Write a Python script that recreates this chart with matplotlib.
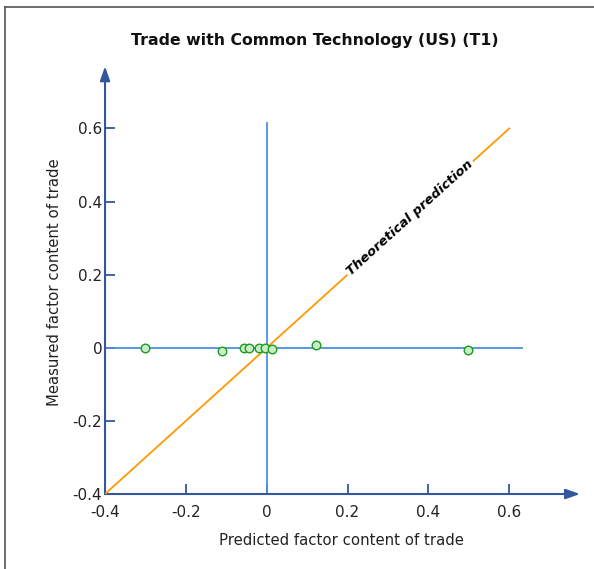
import numpy as np
import matplotlib
matplotlib.use("Agg")
import matplotlib.pyplot as plt
from matplotlib.lines import Line2D

# data
pred = [-0.30, -0.11, -0.055, -0.044, -0.019, -0.005, 0.012, 0.123, 0.498]
meas = [0.0, -0.01, 0.0, 0.0, 0.0, 0.0, -0.004, 0.008, -0.005]
xticks = [-0.4, -0.2, 0, 0.2, 0.4, 0.6]
yticks = [-0.4, -0.2, 0, 0.2, 0.4, 0.6]
tick_txt = ["-0.4", "-0.2", "0", "0.2", "0.4", "0.6"]

AXC = "#34569a"
BLUE = "#4a90e2"
ORANGE = "#ff9900"

plt.rcParams["font.family"] = ["DejaVu Sans"]
fig = plt.figure(figsize=(5.94, 5.69), dpi=100)
# frame: only the left and top edges fall inside the picture
W, H = 594, 569
fig.add_artist(Line2D([4.5 / W, 4.5 / W], [0, 1 - 6.5 / H], transform=fig.transFigure,
                      color="#555555", lw=1.2))
fig.add_artist(Line2D([4.5 / W, 1], [1 - 6.5 / H, 1 - 6.5 / H], transform=fig.transFigure,
                      color="#555555", lw=1.2))

ax = fig.add_axes([0.1768, 0.1318, 0.7962, 0.7452])
ax.set_xlim(-0.4, 0.77)
ax.set_ylim(-0.4, 0.76)
for s in ax.spines.values():
    s.set_visible(False)

# axes with arrows
arrow = dict(arrowstyle="-|>,head_length=0.85,head_width=0.3", color=AXC, lw=1.5,
             mutation_scale=10, shrinkA=0, shrinkB=0)
ax.annotate("", xy=(0.775, -0.4), xytext=(-0.4, -0.4), arrowprops=arrow,
            annotation_clip=False)
ax.annotate("", xy=(-0.4, 0.77), xytext=(-0.4, -0.4), arrowprops=arrow,
            annotation_clip=False)

ax.plot([0, 0], [-0.4, 0.616], color=BLUE, lw=1.3, zorder=2)
ax.plot([-0.4, 0.632], [0, 0], color=BLUE, lw=1.3, zorder=2)
ax.plot([-0.4, 0.6], [-0.4, 0.6], color=ORANGE, lw=1.3, zorder=3)

ax.scatter(pred, meas, s=38, facecolor="#c6efc6", edgecolor="#1f9a1f", lw=1.0, zorder=5)

# angle of the 45-degree line on screen
p0 = ax.transData.transform((0, 0))
p1 = ax.transData.transform((1, 1))
ang = np.degrees(np.arctan2(p1[1] - p0[1], p1[0] - p0[0]))
ax.text(0.355, 0.355, "Theoretical prediction", rotation=ang, rotation_mode="anchor",
        ha="center", va="center", fontsize=9.5, fontweight="bold", fontstyle="italic",
        bbox=dict(boxstyle="square,pad=0.15", fc="white", ec="none"), zorder=4)

ax.set_xticks(xticks)
ax.set_xticklabels(tick_txt)
ax.set_yticks(yticks)
ax.set_yticklabels(tick_txt)
ax.tick_params(axis="both", direction="in", length=7, width=1.3, color=AXC,
               labelsize=11, labelcolor="#222222", pad=2)
ax.tick_params(axis="x", pad=8)
ax.xaxis.get_major_ticks()[0].tick1line.set_visible(False)
ax.yaxis.get_major_ticks()[0].tick1line.set_visible(False)

ax.set_xlabel("Predicted factor content of trade", fontsize=10.7, color="#222222",
              labelpad=9)
ax.set_ylabel("Measured factor content of trade", fontsize=10.7, color="#222222",
              labelpad=8)

fig.text(0.53, 0.928, "Trade with Common Technology (US) (T1)", ha="center", va="center",
         fontsize=11.3, fontweight="bold", color="#111111")

fig.savefig("out.png", dpi=100)
